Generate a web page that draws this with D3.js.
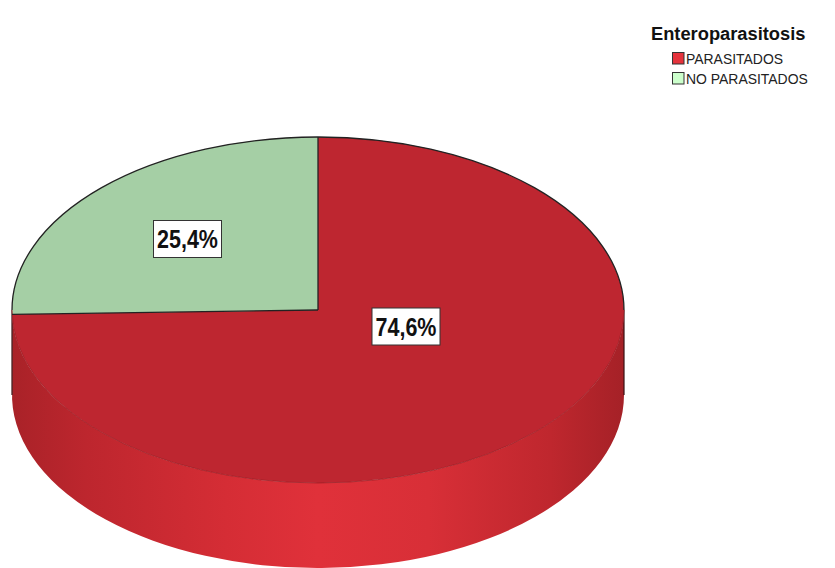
<!DOCTYPE html>
<html>
<head>
<meta charset="utf-8">
<script src="https://cdn.jsdelivr.net/npm/d3@7"></script>
<style>
  html, body { margin: 0; padding: 0; background: #fff; }
  svg { display: block; font-family: "Liberation Sans", Arial, sans-serif; }
</style>
</head>
<body>
<svg id="chart" width="835" height="568"></svg>
<script>
// Enteroparasitosis: share of parasitised vs. non-parasitised subjects
const categories = ["PARASITADOS", "NO PARASITADOS"];
const values = [74.6, 25.4];
const legendTitle = "Enteroparasitosis";

const topColors = ["#BE2630", "#A5CFA5"];
const legendColors = ["#E5333C", "#CCFFCC"];

const svg = d3.select("#chart");
const cx = 318, cy = 310, rx = 306, ry = 173, depth = 85;

const data = categories.map((c, i) => ({ name: c, value: values[i], top: topColors[i], swatch: legendColors[i] }));
const pie = d3.pie().sort(null).value(d => d.value);
const arcs = pie(data);

// point on the top ellipse for a pie angle (clockwise from 12 o'clock)
const pt = (a, dy = 0) => [cx + rx * Math.sin(a), cy - ry * Math.cos(a) + dy];

// side-wall gradient: darker near the rim, bright toward the front
const defs = svg.append("defs");
const grad = defs.append("linearGradient").attr("id", "sideRed")
  .attr("gradientUnits", "userSpaceOnUse")
  .attr("x1", cx - rx).attr("x2", cx + rx).attr("y1", 0).attr("y2", 0);
[[0, "#A92228"], [0.12, "#BD262E"], [0.35, "#D52D35"], [0.5, "#E0313A"],
 [0.68, "#D82F37"], [0.88, "#BF272E"], [1, "#A52127"]]
  .forEach(([o, c]) => grad.append("stop").attr("offset", o).attr("stop-color", c));

// side walls: only the front half (angles PI/2 .. 3PI/2) is visible
const sideG = svg.append("g");
arcs.forEach(d => {
  const a0 = Math.max(d.startAngle, Math.PI / 2);
  const a1 = Math.min(d.endAngle, 3 * Math.PI / 2);
  if (a1 <= a0) return;
  const large = (a1 - a0) > Math.PI ? 1 : 0;
  const p0 = pt(a0), p1 = pt(a1), q1 = pt(a1, depth), q0 = pt(a0, depth);
  const path = `M${p0}A${rx},${ry} 0 ${large} 1 ${p1}L${q1}A${rx},${ry} 0 ${large} 0 ${q0}Z`;
  sideG.append("path").attr("d", path)
    .attr("fill", d.index === 0 ? "url(#sideRed)" : "#8FB88F");
});
// dark outline along the two vertical ends of the wall
const L = pt(3 * Math.PI / 2), R = pt(Math.PI / 2);
sideG.append("path")
  .attr("d", `M${L}L${pt(3 * Math.PI / 2, depth)}M${R}L${pt(Math.PI / 2, depth)}`)
  .attr("stroke", "#3a1214").attr("stroke-width", 1.2).attr("fill", "none");

// top face sectors
const topG = svg.append("g");
arcs.forEach(d => {
  const p0 = pt(d.startAngle), p1 = pt(d.endAngle);
  const large = (d.endAngle - d.startAngle) > Math.PI ? 1 : 0;
  topG.append("path")
    .attr("d", `M${cx},${cy}L${p0}A${rx},${ry} 0 ${large} 1 ${p1}Z`)
    .attr("fill", d.data.top);
});
// soft darker rim where the top meets the front wall
topG.append("path")
  .attr("d", `M${R}A${rx},${ry} 0 0 1 ${L}`)
  .attr("fill", "none").attr("stroke", "#9E1E25").attr("stroke-width", 1).attr("opacity", 0.8);
// dark edge along the back rim
topG.append("path")
  .attr("d", `M${L}A${rx},${ry} 0 0 1 ${R}`)
  .attr("fill", "none").attr("stroke", "#222").attr("stroke-width", 1.3);
// slice boundaries
arcs.forEach(d => {
  topG.append("path")
    .attr("d", `M${cx},${cy}L${pt(d.startAngle)}`)
    .attr("stroke", "#222").attr("stroke-width", 1.3).attr("fill", "none");
});

// value labels in white boxes
const labelPos = [[406, 326.5], [187.5, 239]];
const labelG = svg.append("g");
arcs.forEach((d, i) => {
  const txt = d3.format(".1f")(d.data.value).replace(".", ",") + "%";
  const g = labelG.append("g").attr("transform", `translate(${labelPos[i]})`);
  g.append("rect").attr("x", -34).attr("y", -18.5).attr("width", 68).attr("height", 37)
    .attr("fill", "#fff").attr("stroke", "#333").attr("stroke-width", 1);
  g.append("text").attr("text-anchor", "middle").attr("dy", "0.36em")
    .attr("transform", "scale(0.86,1)")
    .attr("font-size", 25).attr("font-weight", "bold").attr("fill", "#111").text(txt);
});

// legend
const lg = svg.append("g");
lg.append("text").attr("x", 651).attr("y", 40).attr("font-size", 18.3).attr("font-weight", "bold")
  .attr("fill", "#111").text(legendTitle);
data.forEach((d, i) => {
  const y = 52 + i * 20;
  lg.append("rect").attr("x", 672.5).attr("y", y + 0.5).attr("width", 11.5).attr("height", 11.5)
    .attr("fill", d.swatch).attr("stroke", "#333").attr("stroke-width", 1);
  lg.append("text").attr("x", 686).attr("y", y + 12.5).attr("font-size", 15)
    .attr("transform", `translate(686,0) scale(0.93,1) translate(-686,0)`)
    .attr("fill", "#222").text(d.name);
});
</script>
</body>
</html>
